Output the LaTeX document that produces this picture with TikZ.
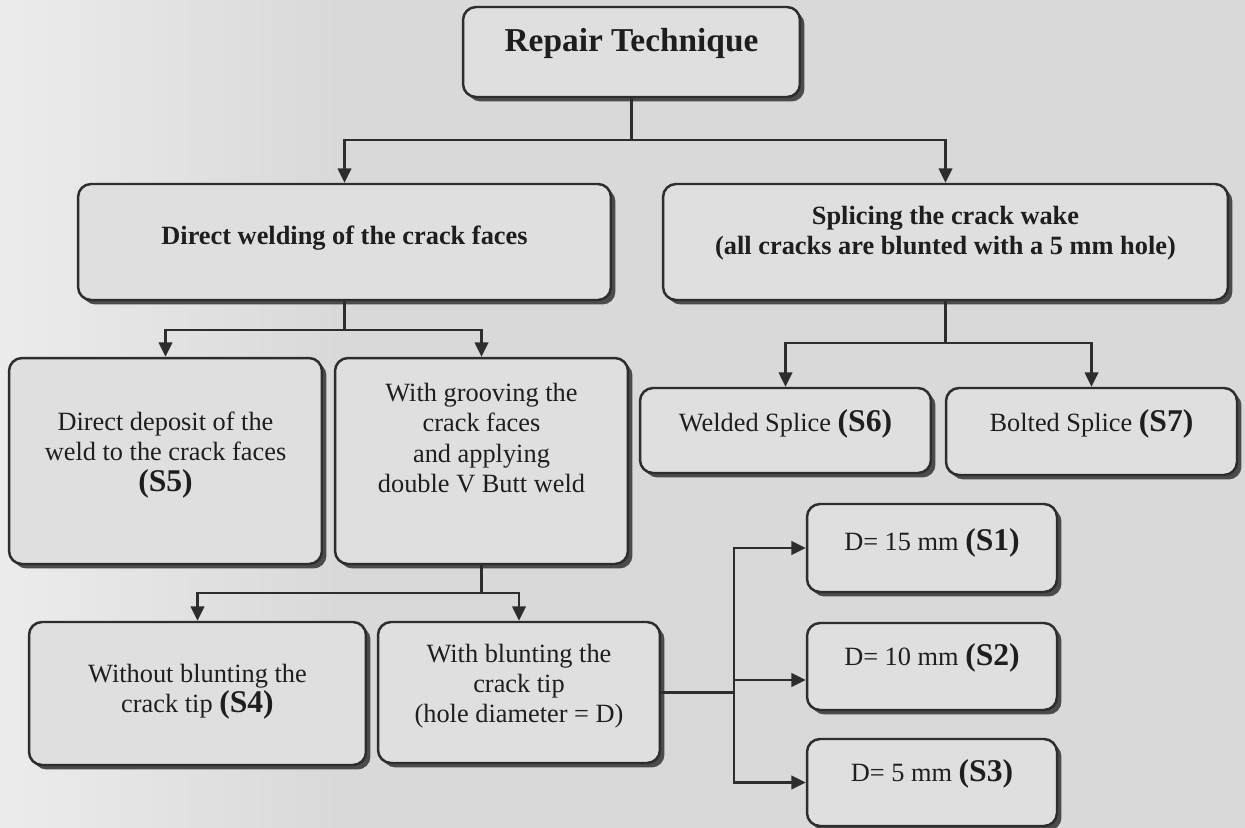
\documentclass[tikz,border=0pt]{standalone}
\usepackage{fontspec}
\setmainfont{Liberation Serif}
\usepackage{tikz}
\usetikzlibrary{arrows.meta,calc,shadows}
\definecolor{cPage}{RGB}{217,217,217}
\definecolor{cPageL}{RGB}{236,236,236}
\definecolor{cBox}{RGB}{223,223,223}
\definecolor{cLine}{RGB}{45,45,45}
\definecolor{cShade}{RGB}{75,75,75}
\definecolor{cText}{RGB}{30,30,30}
\newcommand{\scase}[1]{{\fontsize{18}{20}\selectfont\bfseries(#1)}}
\tikzset{
  box/.style={draw=cLine, line width=1.4pt, fill=cBox, rounded corners=0.26cm,
              inner sep=0pt, drop shadow={shadow xshift=0.09cm, shadow yshift=-0.09cm,
              fill=cShade, opacity=1}},
  txt/.style={align=center, text=cText, inner sep=0pt, font=\fontsize{15}{17.2}\selectfont},
  head/.style={txt, font=\fontsize{15}{17.2}\selectfont\bfseries},
  arr/.style={-{Triangle[length=2.9mm,width=2.7mm]}, line width=1.4pt, draw=cLine},
  wire/.style={line width=1.4pt, draw=cLine},
}
\begin{document}
\begin{tikzpicture}[x=0.02cm, y=-0.02cm]
  \fill[cPage] (0,0) rectangle (1245,828);
  \shade[left color=cPageL, right color=cPage] (0,0) rectangle (340,828);
  \useasboundingbox (0,0) rectangle (1245,828);

  \node[box, minimum width=6.74cm, minimum height=1.8cm] (rt) at (631.5,52) {};
  \node[box, minimum width=10.66cm, minimum height=2.32cm] (dw) at (344.5,242) {};
  \node[box, minimum width=11.3cm, minimum height=2.32cm] (sp) at (945.5,242) {};
  \node[box, minimum width=6.26cm, minimum height=4.12cm] (s5) at (165.5,461) {};
  \node[box, minimum width=5.86cm, minimum height=4.12cm] (gr) at (481.5,461) {};
  \node[box, minimum width=5.82cm, minimum height=1.7cm] (ws) at (785.5,430.5) {};
  \node[box, minimum width=5.82cm, minimum height=1.74cm] (bs) at (1091.5,431.5) {};
  \node[box, minimum width=6.74cm, minimum height=2.86cm] (nb) at (197.5,693.5) {};
  \node[box, minimum width=5.64cm, minimum height=2.82cm] (wb) at (519,692.5) {};
  \node[box, minimum width=5cm, minimum height=1.76cm] (s1) at (932,548) {};
  \node[box, minimum width=5cm, minimum height=1.74cm] (s2) at (932,666.5) {};
  \node[box, minimum width=5cm, minimum height=1.74cm] (s3) at (932,782.5) {};

  \node[head, font=\fontsize{19}{22}\selectfont\bfseries] (rtT) at (631.5,43) {Repair Technique};
  \node[head] (dwT) at (344.5,238) {Direct welding of the crack faces};
  \node[head] (spT) at (945.5,233) {Splicing the crack wake\\(all cracks are blunted with a 5 mm hole)};
  \node[txt] (s5T) at (165.5,455) {Direct deposit of the\\weld to the crack faces\\\scase{S5}};
  \node[txt] (grT) at (481.5,438) {With grooving the\\crack faces\\and applying\\double V Butt weld};
  \node[txt] (wsT) at (785.5,424) {Welded Splice \scase{S6}};
  \node[txt] (bsT) at (1091.5,424) {Bolted Splice \scase{S7}};
  \node[txt] (nbT) at (197.5,692) {Without blunting the\\crack tip \scase{S4}};
  \node[txt] (wbT) at (519,686) {With blunting the\\crack tip\\(hole diameter = D)};
  \node[txt] (s1T) at (932,543) {D= 15 mm \scase{S1}};
  \node[txt] (s2T) at (932,658) {D= 10 mm \scase{S2}};
  \node[txt] (s3T) at (932,774) {D= 5 mm \scase{S3}};

  \coordinate (j1) at (631.5,140);
  \coordinate (j2) at (344.5,330);
  \coordinate (j3) at (945.5,343);
  \coordinate (j4) at (481.5,593);
  \coordinate (j5) at (734,692.5);

  \draw[wire] (rt.south) -- (j1);
  \draw[arr] (j1) -| (dw.north);
  \draw[arr] (j1) -| (sp.north);
  \draw[wire] (dw.south) -- (j2);
  \draw[arr] (j2) -| (s5.north);
  \draw[arr] (j2) -| (gr.north);
  \draw[wire] (sp.south) -- (j3);
  \draw[arr] (j3) -| (ws.north);
  \draw[arr] (j3) -| (bs.north);
  \draw[wire] (gr.south) -- (j4);
  \draw[arr] (j4) -| (nb.north);
  \draw[arr] (j4) -| (wb.north);
  \draw[wire] (wb.east) -- (j5);
  \draw[arr] (j5) |- (s1.west);
  \draw[arr] (j5) |- ($(s2.west)+(0,13.5)$);
  \draw[arr] (j5) |- (s3.west);
\end{tikzpicture}
\end{document}
